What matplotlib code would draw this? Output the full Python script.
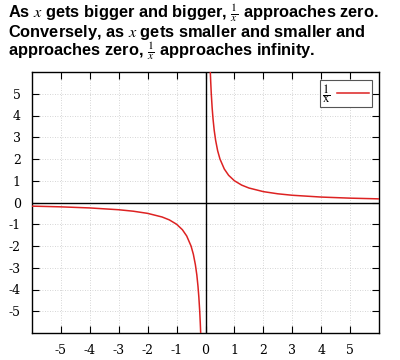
import matplotlib.pyplot as plt

# ---------- Data ----------
x_neg = [-6.0, -5.0, -4.0, -3.0, -2.5, -2.0, -1.5, -1.25, -1.0, -0.8, -0.65,
         -0.5, -0.42, -0.35, -0.3, -0.26, -0.23, -0.2, -0.18, -0.166]
y_neg = [-0.167, -0.2, -0.25, -0.333, -0.4, -0.5, -0.667, -0.8, -1.0, -1.25,
         -1.54, -2.0, -2.38, -2.86, -3.33, -3.85, -4.35, -5.0, -5.56, -6.02]
x_pos = [0.166, 0.18, 0.2, 0.23, 0.26, 0.3, 0.35, 0.42, 0.5, 0.65, 0.8, 1.0,
         1.25, 1.5, 2.0, 2.5, 3.0, 4.0, 5.0, 6.0]
y_pos = [6.02, 5.56, 5.0, 4.35, 3.85, 3.33, 2.86, 2.38, 2.0, 1.54, 1.25, 1.0,
         0.8, 0.667, 0.5, 0.4, 0.333, 0.25, 0.2, 0.167]
ticks = [-5, -4, -3, -2, -1, 0, 1, 2, 3, 4, 5]

title_lines = [
    r"As $x$ gets bigger and bigger, $\frac{1}{x}$ approaches zero.",
    r"Conversely, as $x$ gets smaller and smaller and",
    r"approaches zero, $\frac{1}{x}$ approaches infinity.",
]
title_baselines = [18, 37, 56]

plt.rcParams["mathtext.fontset"] = "stix"
plt.rcParams["axes.unicode_minus"] = False

fig = plt.figure(figsize=(4.0, 3.6), dpi=100)
ax = fig.add_axes([32 / 400, 27 / 360, 347 / 400, 261 / 360])

for line, yb in zip(title_lines, title_baselines):
    fig.text(8 / 400, 1 - yb / 360, line, family="Liberation Sans",
             weight="bold", fontsize=11.8, ha="left", va="baseline")

ax.plot(x_neg, y_neg, color="#dd2222", lw=1.1, label=r"$\dfrac{1}{\mathrm{x}}$", zorder=4)
ax.plot(x_pos, y_pos, color="#dd2222", lw=1.1, zorder=4)
ax.axhline(0, color="black", lw=1.0, zorder=3)
ax.axvline(0, color="black", lw=1.0, zorder=3)

ax.set_xlim(-6, 6)
ax.set_ylim(-6, 6)
ax.set_xticks(ticks)
ax.set_yticks(ticks)
ax.tick_params(direction="in", length=5, width=0.8, top=True, right=True,
               labelsize=9, pad=8, colors="black")
for lab in ax.get_xticklabels() + ax.get_yticklabels():
    lab.set_family("DejaVu Serif")
ax.set_axisbelow(True)
ax.grid(color="#c8c8c8", ls=(0, (1, 2)), lw=0.6)
for s in ax.spines.values():
    s.set_linewidth(1.0)

leg = ax.legend(loc="upper right", fancybox=False, framealpha=1, edgecolor="#555555",
                fontsize=9, handlelength=2.6, borderpad=0.2, handletextpad=0.5,
                markerfirst=False, borderaxespad=0.6)
leg.get_frame().set_linewidth(0.8)

fig.savefig("out.png", dpi=100)
